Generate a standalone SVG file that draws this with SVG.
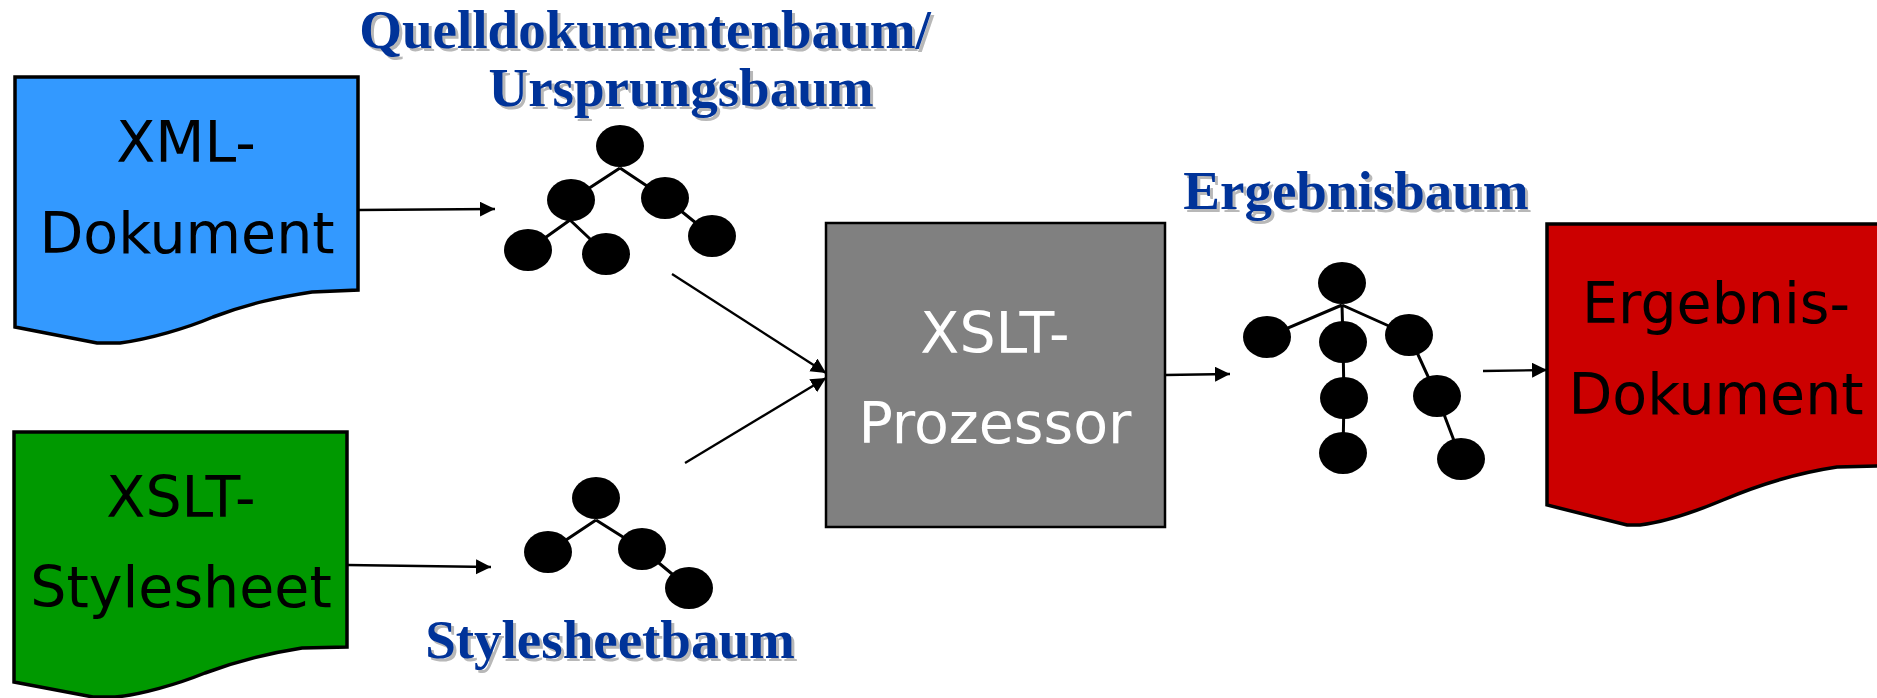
<svg xmlns="http://www.w3.org/2000/svg" width="1877" height="698" viewBox="0 0 1877 698">
<style>
.doc{stroke:#000;stroke-width:3.5;stroke-linejoin:miter}
.dt{font-family:"DejaVu Sans","Liberation Sans",sans-serif;font-size:57px;text-anchor:middle}
.lbl{font-family:"Liberation Serif","Times New Roman",serif;font-weight:bold;font-size:55px;text-anchor:middle;fill:#003399}
.sh{font-family:"Liberation Serif","Times New Roman",serif;font-weight:bold;font-size:55px;text-anchor:middle;fill:#b8b8b8}
.nd{fill:#000}
.ed{stroke:#000;stroke-width:3;fill:none}
.con{stroke:#000;stroke-width:2.3;fill:none;marker-end:url(#ah)}
</style>
<defs>
<marker id="ah" markerUnits="userSpaceOnUse" markerWidth="16" markerHeight="16" refX="15" refY="7.5" orient="auto">
<path d="M0,0 L15,7.5 L0,15 Z" fill="#000"/>
</marker>
</defs>
<rect width="1877" height="698" fill="#fff"/>

<g id="xml-dokument">
<path class="doc" fill="#3399FF" d="M15,77 H358 V290 L312,292 C280,297 250,303 213,317 C187,328 150,339 120,343 L97,343 L15,327 Z"/>
<text class="dt" x="186" y="162">XML-</text>
<text class="dt" x="187" y="253">Dokument</text>
</g>

<g id="xslt-stylesheet">
<path class="doc" fill="#009900" d="M14,432 H347 V647 L302,648 C270,653 240,660 205,673 C178,684 140,695 115,697 L93,697 L14,682 Z"/>
<text class="dt" x="181" y="517">XSLT-</text>
<text class="dt" x="181" y="607">Stylesheet</text>
</g>

<g id="xslt-prozessor">
<rect x="826" y="223" width="339" height="304" fill="#808080" stroke="#000" stroke-width="2.5"/>
<text class="dt" x="995" y="353" fill="#fff">XSLT-</text>
<text class="dt" x="995" y="443" fill="#fff">Prozessor</text>
</g>

<g id="ergebnis-dokument">
<path class="doc" fill="#CC0000" d="M1547,224 H1880 V466 L1837,467 C1797,473 1763,483 1723,500 C1687,515 1657,523 1640,525 L1627,525 L1547,505 Z"/>
<text class="dt" x="1716" y="323">Ergebnis-</text>
<text class="dt" x="1716" y="414">Dokument</text>
</g>

<g id="quellbaum">
<text class="sh" x="648" y="51">Quelldokumentenbaum/</text>
<text class="lbl" x="645" y="48">Quelldokumentenbaum/</text>
<text class="sh" x="684" y="109">Ursprungsbaum</text>
<text class="lbl" x="681" y="106">Ursprungsbaum</text>
<path class="ed" d="M620,168 L571,200 M620,168 L665,198 M570,220 L528,250 M570,220 L606,254 M665,198 L712,236"/>
<ellipse class="nd" cx="620" cy="146" rx="24" ry="21"/>
<ellipse class="nd" cx="571" cy="200" rx="24" ry="21"/>
<ellipse class="nd" cx="665" cy="198" rx="24" ry="21"/>
<ellipse class="nd" cx="528" cy="250" rx="24" ry="21"/>
<ellipse class="nd" cx="606" cy="254" rx="24" ry="21"/>
<ellipse class="nd" cx="712" cy="236" rx="24" ry="21"/>
</g>

<g id="stylesheetbaum">
<text class="sh" x="613" y="661">Stylesheetbaum</text>
<text class="lbl" x="610" y="658">Stylesheetbaum</text>
<path class="ed" d="M596,520 L548,552 M596,520 L642,549 M642,549 L689,588"/>
<ellipse class="nd" cx="596" cy="498" rx="24" ry="21"/>
<ellipse class="nd" cx="548" cy="552" rx="24" ry="21"/>
<ellipse class="nd" cx="642" cy="549" rx="24" ry="21"/>
<ellipse class="nd" cx="689" cy="588" rx="24" ry="21"/>
</g>

<g id="ergebnisbaum">
<text class="sh" x="1359" y="212">Ergebnisbaum</text>
<text class="lbl" x="1356" y="209">Ergebnisbaum</text>
<path class="ed" d="M1342,305 L1267,337 M1342,305 L1343,342 M1342,305 L1409,335 M1343,342 L1344,398 L1343,453 M1409,335 L1437,396 L1461,459"/>
<ellipse class="nd" cx="1342" cy="283" rx="24" ry="21"/>
<ellipse class="nd" cx="1267" cy="337" rx="24" ry="21"/>
<ellipse class="nd" cx="1343" cy="342" rx="24" ry="21"/>
<ellipse class="nd" cx="1409" cy="335" rx="24" ry="21"/>
<ellipse class="nd" cx="1344" cy="398" rx="24" ry="21"/>
<ellipse class="nd" cx="1343" cy="453" rx="24" ry="21"/>
<ellipse class="nd" cx="1437" cy="396" rx="24" ry="21"/>
<ellipse class="nd" cx="1461" cy="459" rx="24" ry="21"/>
</g>

<g id="connectors">
<line class="con" x1="358" y1="210" x2="495" y2="209"/>
<line class="con" x1="347" y1="565" x2="491" y2="567"/>
<line class="con" x1="672" y1="274" x2="826" y2="373"/>
<line class="con" x1="685" y1="463" x2="826" y2="378"/>
<line class="con" x1="1165" y1="375" x2="1230" y2="374"/>
<line class="con" x1="1483" y1="371" x2="1547" y2="370"/>
</g>
</svg>
